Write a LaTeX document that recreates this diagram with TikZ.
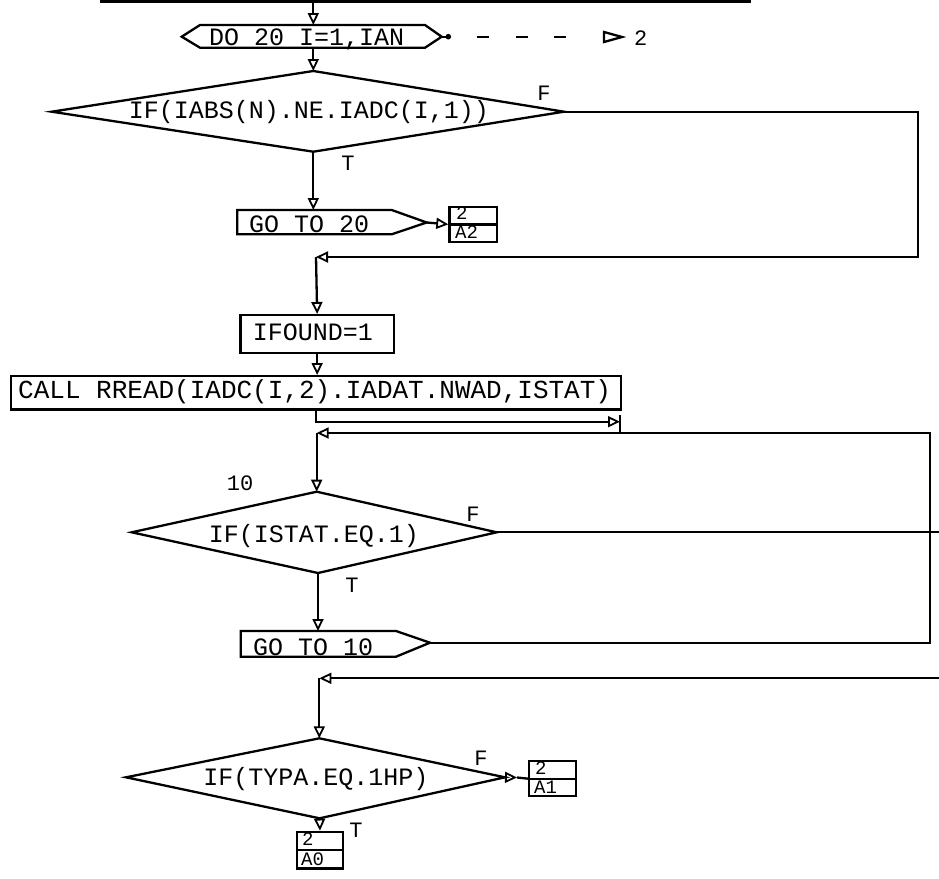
\documentclass[tikz,border=0pt]{standalone}
\usepackage{fontspec}
\setmainfont{Liberation Mono}
\setmonofont{Liberation Mono}
\usetikzlibrary{arrows.meta}
\tikzset{
  ln/.style={line width=2.3pt},
  flow/.style={ln, -{Triangle[open, length=12pt, width=11pt, line width=1.8pt]}},
  txt/.style={font=\fontsize{25}{30}\selectfont, inner sep=0pt},
  calltext/.style={font=\fontsize{26}{30}\selectfont, inner sep=0pt},
  lbl/.style={font=\fontsize{22}{26}\selectfont, inner sep=0pt},
  small/.style={font=\fontsize{19}{22}\selectfont, inner sep=0pt, text height=12pt, text depth=0pt},
  boxnode/.style={draw, ln, inner sep=0pt, anchor=north west},
}
\begin{document}
\begin{tikzpicture}[x=1pt, y=-1pt]
\useasboundingbox (0,0) rectangle (939,878);

% top border line
\coordinate (tl) at (100,1.5);
\coordinate (tr) at (751,1.5);
\draw[line width=3pt] (tl) -- (tr);

% DO loop hexagon
\coordinate (top) at (313.3,0);
\coordinate (doT) at (313.3,25);
\coordinate (doB) at (313.3,47.7);
\coordinate (doR) at (441.7,36.7);
\draw[ln] (181.7,36.7) -- (200,25) -- (425,25) -- (doR) -- (425,47.7) -- (200,47.7) -- cycle;
\node[txt, anchor=base west] (dotxt) at (209,45) {DO 20 I=1,IAN};
\draw[flow] (top) -- (doT);
\coordinate (dot) at (448.3,36.7);
\draw[ln] (doR) -- (dot);
\fill (dot) circle (2.8);
\coordinate (dsA) at (477,36.7);
\coordinate (dsB) at (566,36.7);
\draw[ln, dash pattern=on 12pt off 26.5pt] (dsA) -- (dsB);
\draw[ln] (604,32) -- (622,37) -- (604,42) -- cycle;
\node[lbl, anchor=base west] (two) at (634,45) {2};

% diamond 1
\coordinate (d1t) at (313.3,71);
\coordinate (d1r) at (564,111.7);
\coordinate (d1b) at (313.3,151.7);
\coordinate (d1l) at (51.7,111.7);
\draw[ln] (d1t) -- (d1r) -- (d1b) -- (d1l) -- cycle;
\node[txt, anchor=base] (d1) at (309,118.5) {IF(IABS(N).NE.IADC(I,1))};
\draw[flow] (doB) -- (d1t);
\node[lbl, anchor=base] (d1F) at (544,100) {F};
\node[lbl, anchor=base] (d1T) at (348,170) {T};

% GO TO 20
\coordinate (g1t) at (313.3,210);
\coordinate (g1r) at (426.7,222.5);
\draw[ln] (237.3,210) -- (391.7,210) -- (g1r) -- (391.7,234.3) -- (237.3,234.3) -- cycle;
\node[txt, anchor=base west] (g1) at (249,232) {GO TO 20};
\draw[flow] (d1b) -- (g1t);

% connector A2
\node[boxnode, minimum width=47.7pt, minimum height=35pt] (a2) at (448.3,205.7) {};
\draw[ln] (a2.west) -- (a2.east);
\node[small, anchor=base west] (a2top) at (456,219.5) {2};
\node[small, anchor=base west] (a2bot) at (455,238.5) {A2};
\draw[flow] (g1r) -- (a2.west);

% loop 1 (F branch)
\coordinate (l1a) at (918,111.7);
\coordinate (l1b) at (918,257);
\coordinate (j1) at (316,257);
\draw[flow] (d1r) -- (l1a) -- (l1b) -- (j1);

% IFOUND
\node[boxnode, minimum width=153.4pt, minimum height=37.7pt] (ifound) at (239.3,314) {};
\node[txt, anchor=base] (iftxt) at (313,340) {IFOUND=1};
\draw[flow] (j1) -- (ifound.north);

% CALL RREAD
\node[boxnode, minimum width=610pt, minimum height=33.3pt] (call) at (10,375) {};
\node[calltext, anchor=base west] (calltxt) at (18,398.3) {CALL RREAD(IADC(I,2).IADAT.NWAD,ISTAT)};
\draw[flow] (ifound.south) -- (ifound.south |- call.north);

% path after CALL into loop 2
\coordinate (c0) at (316,408.3);
\coordinate (c1) at (316,421.7);
\coordinate (c2) at (620,421.7);
\coordinate (c2u) at (620,415);
\coordinate (c3) at (620,433);
\draw[flow] (c0) -- (c1) -- (c2);
\draw[ln] (c2u) -- (c3);

% diamond 2
\coordinate (d2t) at (316.7,491.7);
\coordinate (d2r) at (496.7,532.3);
\coordinate (d2b) at (318,573);
\coordinate (d2l) at (131.7,532.3);
\draw[ln] (d2t) -- (d2r) -- (d2b) -- (d2l) -- cycle;
\node[txt, anchor=base] (d2) at (314,542) {IF(ISTAT.EQ.1)};
\node[lbl, anchor=base] (d2F) at (473,521) {F};
\node[lbl, anchor=base] (d2T) at (352,592) {T};
\node[lbl, anchor=base] (lab10) at (240,490) {10};
\coordinate (d2out) at (939,532.3);
\draw[ln] (d2r) -- (d2out);

% GO TO 10
\coordinate (g2t) at (318,631);
\coordinate (g2r) at (430,642.7);
\draw[ln] (240.7,631) -- (396,631) -- (g2r) -- (396,656.7) -- (240.7,656.7) -- cycle;
\node[txt, anchor=base west] (g2) at (253,655) {GO TO 10};
\draw[flow] (d2b) -- (g2t);

% loop 2 return
\coordinate (l2a) at (930,642.7);
\coordinate (l2b) at (930,433);
\coordinate (j2) at (316.7,433);
\draw[flow] (g2r) -- (l2a) -- (l2b) -- (j2);
\draw[flow] (j2) -- (d2t);

% loop 3 return
\coordinate (l3in) at (939,678.3);
\coordinate (j3) at (319.3,678.3);
\coordinate (d3t) at (319.3,738.3);
\draw[flow] (l3in) -- (j3);
\draw[flow] (j3) -- (d3t);

% diamond 3
\coordinate (d3r) at (505,777.3);
\coordinate (d3b) at (319.6,818.3);
\coordinate (d3l) at (126,777.3);
\draw[ln] (d3t) -- (d3r) -- (d3b) -- (d3l) -- cycle;
\node[txt, anchor=base] (d3) at (316,785) {IF(TYPA.EQ.1HP)};
\node[lbl, anchor=base] (d3F) at (481,765) {F};
\node[lbl, anchor=base] (d3T) at (356,837) {T};

% connector A1
\node[boxnode, minimum width=47pt, minimum height=35pt] (a1) at (528,760) {};
\draw[ln] (a1.west) -- (a1.east);
\node[small, anchor=base west] (a1top) at (535,774) {2};
\node[small, anchor=base west] (a1bot) at (534,793) {A1};
\coordinate (a1arr) at (517,777.5);
\draw[flow] (d3r) -- (a1arr);
\draw[ln] (a1arr) -- (a1.west);

% connector A0
\node[boxnode, minimum width=45.7pt, minimum height=36.6pt] (a0) at (296,830.7) {};
\draw[ln] (a0.west) -- (a0.east);
\node[small, anchor=base west] (a0top) at (302,845.5) {2};
\node[small, anchor=base west] (a0bot) at (301,865) {A0};
\draw[flow] (d3b) -- (a0.north);
\end{tikzpicture}
\end{document}
